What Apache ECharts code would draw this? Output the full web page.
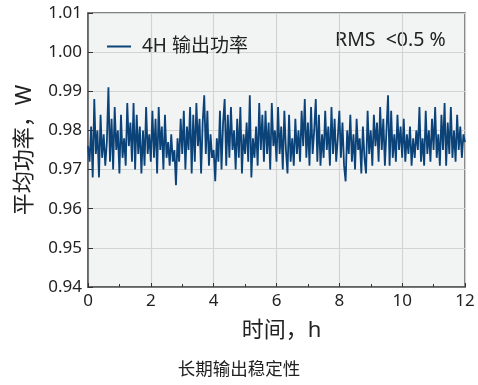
<!DOCTYPE html>
<html><head><meta charset="utf-8">
<script src="https://cdn.jsdelivr.net/npm/echarts@6/dist/echarts.min.js"></script>
<style>html,body{margin:0;padding:0;background:#fff}#c{width:478px;height:385px}</style>
</head><body><div id="c"></div>
<script>
const seriesName = '4H 输出功率';
const annotation = 'RMS  <0.5 %';
const xTicks = [0, 2, 4, 6, 8, 10, 12];
const yTicks = [0.94, 0.95, 0.96, 0.97, 0.98, 0.99, 1.00, 1.01];
const stepHours = 0.05;
const power = [
0.976,0.972,0.981,0.968,0.988,0.974,0.980,0.968,0.984,0.973,0.979,0.971,0.977,0.991,0.972,0.983,0.970,0.986,0.975,0.980,
0.969,0.984,0.973,0.978,0.971,0.987,0.976,0.982,0.972,0.987,0.970,0.984,0.974,0.981,0.969,0.980,0.971,0.986,0.974,0.979,
0.972,0.985,0.973,0.983,0.969,0.986,0.975,0.981,0.970,0.984,0.973,0.977,0.971,0.979,0.972,0.975,0.966,0.978,0.972,0.983,
0.974,0.985,0.970,0.981,0.975,0.986,0.969,0.984,0.972,0.987,0.976,0.983,0.969,0.982,0.989,0.974,0.985,0.971,0.979,0.973,
0.975,0.967,0.978,0.972,0.985,0.970,0.982,0.988,0.971,0.984,0.973,0.986,0.975,0.980,0.970,0.983,0.973,0.986,0.969,0.979,
0.974,0.982,0.972,0.989,0.968,0.978,0.973,0.981,0.971,0.987,0.975,0.984,0.972,0.985,0.974,0.982,0.970,0.987,0.976,0.980,
0.972,0.986,0.974,0.981,0.970,0.985,0.975,0.969,0.984,0.972,0.978,0.971,0.983,0.974,0.980,0.972,0.985,0.976,0.988,0.973,
0.982,0.971,0.986,0.974,0.980,0.988,0.972,0.984,0.971,0.979,0.973,0.985,0.975,0.981,0.971,0.986,0.974,0.983,0.972,0.978,
0.985,0.973,0.982,0.971,0.967,0.980,0.974,0.984,0.972,0.979,0.970,0.983,0.975,0.978,0.969,0.981,0.973,0.969,0.985,0.974,
0.980,0.971,0.984,0.976,0.982,0.972,0.986,0.975,0.983,0.971,0.980,0.989,0.971,0.985,0.973,0.979,0.972,0.984,0.975,0.981,
0.973,0.983,0.972,0.979,0.974,0.981,0.971,0.978,0.973,0.980,0.975,0.986,0.972,0.978,0.971,0.985,0.974,0.980,0.972,0.983,
0.975,0.986,0.973,0.979,0.971,0.984,0.975,0.987,0.971,0.982,0.974,0.986,0.973,0.980,0.972,0.984,0.975,0.981,0.973,0.979,
0.977
];
const data = power.map((v, i) => [+(i * stepHours).toFixed(2), v]);
const FONT = '"Noto Sans", "Noto Sans CJK SC", sans-serif';
const chart = echarts.init(document.getElementById('c'), null, {renderer: 'canvas'});
chart.setOption({
  animation: false,
  grid: {left: 88, right: 13, top: 13, bottom: 98, show: true, backgroundColor: '#f2f3f3', borderColor: '#5a5a5a', borderWidth: 1.5},
  title: {text: '长期输出稳定性', left: 'center', top: 356, textStyle: {fontFamily: FONT, fontSize: 17.5, fontWeight: 'normal', color: '#222'}},
  legend: {data: [seriesName], left: 102, top: 32, itemWidth: 24, itemHeight: 12, itemGap: 10,
    textStyle: {fontFamily: FONT, fontSize: 19, color: '#222', padding: [0, 0, 0, 6]}, icon: 'path://M0,5 L24,5 L24,7 L0,7 Z'},
  graphic: [{type: 'text', left: 335, top: 31, style: {text: annotation, fontFamily: FONT, fontSize: 19.5, fill: '#222'}}],
  xAxis: {type: 'value', min: xTicks[0], max: xTicks[xTicks.length - 1], interval: 2,
    name: '时间，h', nameLocation: 'middle', nameGap: 33, nameTextStyle: {fontFamily: FONT, fontSize: 22, color: '#222', padding: [0, 0, 0, 10]},
    axisLine: {lineStyle: {color: '#5a5a5a', width: 1.5}},
    axisTick: {inside: true, length: 4, lineStyle: {color: '#333'}},
    minorTick: {show: true, splitNumber: 2, length: 3, lineStyle: {color: '#333'}},
    axisLabel: {fontFamily: FONT, fontSize: 17, color: '#222', margin: 6},
    splitLine: {show: true, lineStyle: {color: '#d2d4d4', width: 1.2}}},
  yAxis: {type: 'value', min: yTicks[0], max: yTicks[yTicks.length - 1], interval: 0.01,
    name: '平均功率，W', nameLocation: 'middle', nameGap: 52, nameRotate: 90, nameTextStyle: {fontFamily: FONT, fontSize: 22, color: '#222'},
    axisLine: {show: true, lineStyle: {color: '#5a5a5a', width: 1.5}},
    axisTick: {show: true, inside: true, length: 5, lineStyle: {color: '#333'}},
    axisLabel: {fontFamily: FONT, fontSize: 17, color: '#222', margin: 6, formatter: v => v.toFixed(2)},
    splitLine: {show: true, lineStyle: {color: '#d2d4d4', width: 1.2}}},
  series: [{name: seriesName, type: 'line', data: data, showSymbol: false, symbol: 'none',
    lineStyle: {color: '#0b4278', width: 1.8}, itemStyle: {color: '#0b4278'}}]
});
</script></body></html>
